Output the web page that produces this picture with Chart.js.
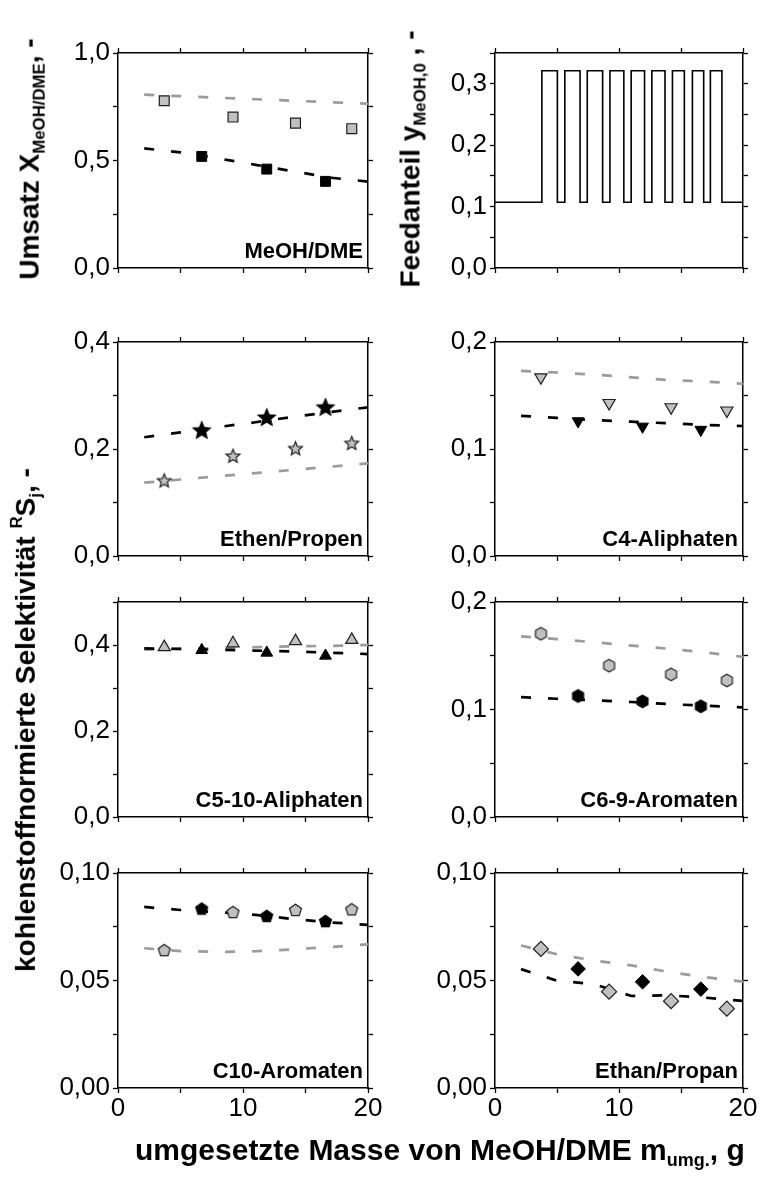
<!DOCTYPE html>
<html lang="de">
<head>
<meta charset="utf-8">
<title>Umsatz, Feedanteil und Selektivitäten</title>
<script src="https://cdn.jsdelivr.net/npm/chart.js@4.4.1/dist/chart.umd.min.js"></script>
<style>
  html, body { margin: 0; padding: 0; background: #fff; }
  body { position: relative; width: 760px; height: 1180px; overflow: hidden;
         font-family: "Liberation Sans", Arial, sans-serif; color: #000; }
  .panel { position: absolute; }
  .title { position: absolute; z-index: 2; font-weight: bold; font-size: 28px;
           white-space: nowrap; line-height: 1; }
  #titleMass { font-size: 30px; }
  .title sub, .title sup { font-size: 0.6em; line-height: 0; }
  .title sub { vertical-align: -0.35em; }
  .title sup { vertical-align: 0.8em; }
</style>
</head>
<body>
<div class="title" id="titleConv">Umsatz X<sub>MeOH/DME</sub>, -</div>
<div class="title" id="titleFeed">Feedanteil y<sub>MeOH,0</sub> , -</div>
<div class="title" id="titleSel">kohlenstoffnormierte Selektivität <sup>R</sup>S<sub>j</sub>, -</div>
<div class="title" id="titleMass">umgesetzte Masse von MeOH/DME m<sub>umg.</sub>, g</div>
<script>
// x positions of the measurements / fit curves (g converted MeOH/DME)
const fitMass   = [2.1, 5, 8, 11, 14, 17, 20];
const greyMass  = [3.7, 9.2, 14.2, 18.7];
const blackMass = [6.7, 11.9, 16.6];

// conversion MeOH/DME
const convGrey     = [0.778, 0.702, 0.674, 0.648];
const convBlack    = [0.519, 0.460, 0.403];
const convGreyFit  = [0.806, 0.799, 0.792, 0.785, 0.778, 0.771, 0.764];
const convBlackFit = [0.556, 0.538, 0.510, 0.480, 0.450, 0.420, 0.402];

// feed fraction (pulsed operation)
const feedMass     = [0, 3.78, 5.03, 5.63, 6.86, 7.44, 8.68, 9.27, 10.39, 10.98, 12.06,
                      12.65, 13.71, 14.31, 15.27, 15.92, 16.83, 17.37, 18.30, 20];
const feedFraction = [0.107, 0.321, 0.107, 0.321, 0.107, 0.321, 0.107, 0.321, 0.107, 0.321,
                      0.107, 0.321, 0.107, 0.321, 0.107, 0.321, 0.107, 0.321, 0.107, 0.107];

// Ethen/Propen
const olefinGrey     = [0.140, 0.186, 0.200, 0.210];
const olefinBlack    = [0.234, 0.258, 0.277];
const olefinGreyFit  = [0.137, 0.143, 0.149, 0.155, 0.161, 0.167, 0.173];
const olefinBlackFit = [0.222, 0.231, 0.241, 0.250, 0.260, 0.269, 0.278];

// C4-Aliphaten
const c4Grey     = [0.167, 0.143, 0.139, 0.136];
const c4Black    = [0.126, 0.121, 0.118];
const c4GreyFit  = [0.173, 0.1715, 0.1695, 0.167, 0.1645, 0.163, 0.161];
const c4BlackFit = [0.131, 0.129, 0.127, 0.1255, 0.124, 0.1225, 0.1215];

// C5-10-Aliphaten
const c510Grey     = [0.395, 0.404, 0.409, 0.412];
const c510Black    = [0.388, 0.382, 0.375];
const c510GreyFit  = [0.389, 0.391, 0.393, 0.395, 0.397, 0.398, 0.400];
const c510BlackFit = [0.392, 0.391, 0.389, 0.387, 0.385, 0.382, 0.379];

// C6-9-Aromaten
const c69Grey     = [0.1705, 0.1408, 0.1327, 0.127];
const c69Black    = [0.1126, 0.1076, 0.103];
const c69GreyFit  = [0.168, 0.1655, 0.1625, 0.1595, 0.1565, 0.153, 0.149];
const c69BlackFit = [0.1115, 0.110, 0.1085, 0.107, 0.105, 0.1035, 0.102];

// C10-Aromaten
const c10Grey     = [0.0639, 0.0816, 0.0826, 0.0829];
const c10Black    = [0.0832, 0.0798, 0.0774];
const c10GreyFit  = [0.065, 0.0637, 0.0633, 0.0636, 0.0645, 0.0656, 0.0668];
const c10BlackFit = [0.0842, 0.0828, 0.0818, 0.0805, 0.0786, 0.0770, 0.0759];

// Ethan/Propan
const paraffinGrey     = [0.0647, 0.0448, 0.0404, 0.0369];
const paraffinBlack    = [0.0554, 0.0494, 0.0460];
const paraffinGreyFit  = [0.0663, 0.0622, 0.0593, 0.0570, 0.0540, 0.0515, 0.0495];
const paraffinBlackFit = [0.0553, 0.0499, 0.0483, 0.0428, 0.0431, 0.0420, 0.0405];

// ---- look ----
const FONT = '"Liberation Sans", Arial, Helvetica, sans-serif';
const GREY_FILL = '#c0c0c0';
const GREY_LINE = '#9b9b9b';
const EDGE = '#1e1e1e';
const DASH = [10, 17];

// plot area layout (left column / right column, four rows)
const COL_LEFT = [118, 495], COL_W = [250, 248];
const ROW_TOP = [53, 342, 602, 873], ROW_H = [215, 214, 215, 215];
const YW = 100, RW = 22, TH = 22;

const pts = (xs, ys) => xs.map((x, i) => ({ x: x, y: ys[i] }));

// polygon / star markers that chart.js has no built-in style for
function shapeMarker(corners, r, fill, inner) {
  const s = Math.ceil(2 * r + 4);
  const c = document.createElement('canvas');
  c.width = c.height = s;
  const g = c.getContext('2d');
  g.translate(s / 2, s / 2);
  const n = inner ? corners * 2 : corners;
  g.beginPath();
  for (let i = 0; i < n; i++) {
    const a = -Math.PI / 2 + i * 2 * Math.PI / n;
    const rr = inner && i % 2 ? r * inner : r;
    g.lineTo(rr * Math.cos(a), rr * Math.sin(a));
  }
  g.closePath();
  g.fillStyle = fill;
  g.fill();
  g.lineWidth = 1.2;
  g.strokeStyle = fill === '#000' ? '#000' : EDGE;
  g.stroke();
  return c;
}

const markers = {
  square:   { grey: { pointStyle: 'rect', pointRadius: 7 }, black: { pointStyle: 'rect', pointRadius: 7 } },
  star:     { grey: { pointStyle: shapeMarker(5, 7.2, GREY_FILL, 0.45), pointRadius: 7 },
              black: { pointStyle: shapeMarker(5, 9, '#000', 0.45), pointRadius: 9 } },
  triDown:  { grey: { pointStyle: 'triangle', rotation: 180, pointRadius: 7 },
              black: { pointStyle: 'triangle', rotation: 180, pointRadius: 6.8 } },
  triUp:    { grey: { pointStyle: 'triangle', pointRadius: 7 }, black: { pointStyle: 'triangle', pointRadius: 6.8 } },
  hexagon:  { grey: { pointStyle: shapeMarker(6, 6.3, GREY_FILL), pointRadius: 6 },
              black: { pointStyle: shapeMarker(6, 6.3, '#000'), pointRadius: 6 } },
  pentagon: { grey: { pointStyle: shapeMarker(5, 6.3, GREY_FILL), pointRadius: 6 },
              black: { pointStyle: shapeMarker(5, 6.3, '#000'), pointRadius: 6 } },
  diamond:  { grey: { pointStyle: 'rectRot', pointRadius: 7.5 }, black: { pointStyle: 'rectRot', pointRadius: 7.3 } }
};

function fitLine(ys, color) {
  return { data: pts(fitMass, ys), showLine: true, pointRadius: 0, borderColor: color,
           borderWidth: 2.7, borderDash: DASH, borderCapStyle: 'butt' };
}

function series(marker, grey, black, greyFit, blackFit) {
  const m = markers[marker];
  return [
    Object.assign({ data: pts(blackMass, black), backgroundColor: '#000', borderColor: '#000', borderWidth: 1 }, m.black),
    Object.assign({ data: pts(greyMass, grey), backgroundColor: GREY_FILL, borderColor: EDGE, borderWidth: 1.2 }, m.grey),
    fitLine(blackFit, '#000'),
    fitLine(greyFit, GREY_LINE)
  ];
}

const panelLabel = {
  id: 'panelLabel',
  afterDraw(chart, args, opts) {
    if (!opts.text) return;
    const { ctx, chartArea } = chart;
    ctx.save();
    ctx.font = 'bold 22px ' + FONT;
    ctx.fillStyle = '#000';
    ctx.textAlign = 'right';
    ctx.textBaseline = 'alphabetic';
    ctx.fillText(opts.text, chartArea.right - 5, chartArea.bottom - 10);
    ctx.restore();
  }
};

function scales(yMax, yStep, yLabelStep, decimals, bottomRow) {
  const grid = { drawOnChartArea: false, drawTicks: true, tickLength: 5, tickColor: '#000', tickWidth: 1.3 };
  const border = { display: true, color: '#000', width: 1.5 };
  const font = { family: FONT, size: 26 };
  const yLabel = v => Math.abs(v / yLabelStep - Math.round(v / yLabelStep)) < 1e-6
    ? v.toFixed(decimals).replace('.', ',') : '';
  return {
    x: { type: 'linear', position: 'bottom', min: 0, max: 20, grid, border,
         ticks: { stepSize: 5, display: bottomRow, autoSkip: false, maxRotation: 0, padding: 0,
                  color: '#000', font, callback: v => (v % 10 === 0 ? String(v) : '') },
         afterFit: s => { s.height = bottomRow ? 62 : 22; } },
    x2: { type: 'linear', position: 'top', min: 0, max: 20, grid, border,
          ticks: { stepSize: 5, display: false },
          afterFit: s => { s.height = TH; } },
    y: { type: 'linear', position: 'left', min: 0, max: yMax, grid, border,
         ticks: { stepSize: yStep, autoSkip: false, padding: 3, color: '#000', font, callback: yLabel },
         afterFit: s => { s.width = YW; } },
    y2: { type: 'linear', position: 'right', min: 0, max: yMax, grid, border,
          ticks: { stepSize: yStep, display: false },
          afterFit: s => { s.width = RW; } }
  };
}

function makePanel(col, row, p) {
  const bottomRow = row === 3;
  const w = YW + COL_W[col] + RW;
  const h = TH + ROW_H[row] + (bottomRow ? 62 : 22);
  const div = document.createElement('div');
  div.className = 'panel';
  div.style.left = (COL_LEFT[col] - YW) + 'px';
  div.style.top = (ROW_TOP[row] - TH) + 'px';
  const canvas = document.createElement('canvas');
  canvas.width = w;
  canvas.height = h;
  div.appendChild(canvas);
  document.body.appendChild(div);
  new Chart(canvas, {
    type: 'scatter',
    data: { datasets: p.datasets },
    options: {
      responsive: false,
      animation: false,
      events: [],
      layout: { padding: 0 },
      scales: scales(p.yMax, p.yStep, p.yLabelStep, p.decimals, bottomRow),
      plugins: { legend: { display: false }, tooltip: { enabled: false }, panelLabel: { text: p.label } }
    },
    plugins: [panelLabel]
  });
}

makePanel(0, 0, { yMax: 1.0, yStep: 0.25, yLabelStep: 0.5, decimals: 1, label: 'MeOH/DME',
  datasets: series('square', convGrey, convBlack, convGreyFit, convBlackFit) });

makePanel(1, 0, { yMax: 0.35, yStep: 0.05, yLabelStep: 0.1, decimals: 1, label: '',
  datasets: [{ data: pts(feedMass, feedFraction), showLine: true, stepped: 'before', pointRadius: 0,
               borderColor: '#000', borderWidth: 1.6 }] });

makePanel(0, 1, { yMax: 0.4, yStep: 0.1, yLabelStep: 0.2, decimals: 1, label: 'Ethen/Propen',
  datasets: series('star', olefinGrey, olefinBlack, olefinGreyFit, olefinBlackFit) });

makePanel(1, 1, { yMax: 0.2, yStep: 0.05, yLabelStep: 0.1, decimals: 1, label: 'C4-Aliphaten',
  datasets: series('triDown', c4Grey, c4Black, c4GreyFit, c4BlackFit) });

makePanel(0, 2, { yMax: 0.5, yStep: 0.1, yLabelStep: 0.2, decimals: 1, label: 'C5-10-Aliphaten',
  datasets: series('triUp', c510Grey, c510Black, c510GreyFit, c510BlackFit) });

makePanel(1, 2, { yMax: 0.2, yStep: 0.05, yLabelStep: 0.1, decimals: 1, label: 'C6-9-Aromaten',
  datasets: series('hexagon', c69Grey, c69Black, c69GreyFit, c69BlackFit) });

makePanel(0, 3, { yMax: 0.1, yStep: 0.025, yLabelStep: 0.05, decimals: 2, label: 'C10-Aromaten',
  datasets: series('pentagon', c10Grey, c10Black, c10GreyFit, c10BlackFit) });

makePanel(1, 3, { yMax: 0.1, yStep: 0.025, yLabelStep: 0.05, decimals: 2, label: 'Ethan/Propan',
  datasets: series('diamond', paraffinGrey, paraffinBlack, paraffinGreyFit, paraffinBlackFit) });

// axis titles (html text, rotated where needed)
function placeTitle(id, cx, cy, vertical) {
  const el = document.getElementById(id);
  el.style.left = (cx - el.offsetWidth / 2) + 'px';
  el.style.top = (cy - el.offsetHeight / 2) + 'px';
  if (vertical) el.style.transform = 'rotate(-90deg)';
}
placeTitle('titleConv', 29, 159, true);
placeTitle('titleFeed', 410, 159, true);
placeTitle('titleSel', 26, 720, true);
placeTitle('titleMass', 440, 1150, false);
</script>
</body>
</html>
